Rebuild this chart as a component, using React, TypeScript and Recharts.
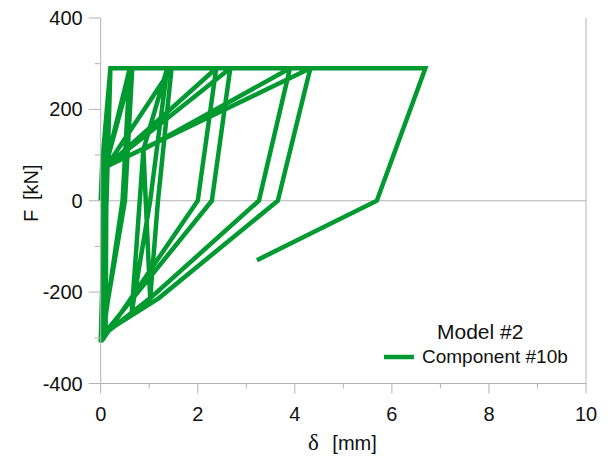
import React from "react";
import {
  LineChart,
  Line,
  XAxis,
  YAxis,
  ReferenceLine,
  Legend,
} from "recharts";

const FONT = "'Liberation Sans', Arial, sans-serif";
const GREEN = "#009a31";
const AXIS_GREY = "#b4b4b4";

// hysteresis path, in the order it was traced
const deltaMm = [
  0, 0.03, 0.2, 0.12, 0.02,
  0.06, 0.2, 0.6, 0.45, 0.05,
  0.1, 0.6, 0.65, 0.5, 0.0,
  0.1, 0.65, 1.37, 1.02, 0.64, 0.88,
  1.37, 1.46, 1.18, 1.02, 0.1,
  0.12, 1.46, 2.38, 2.0, 0.1,
  0.12, 2.38, 2.67, 2.29, 0.08,
  0.12, 2.67, 3.9, 3.26, 1.02, 0.88,
  3.9, 4.32, 3.65, 1.2, 0.05,
  0.12, 4.32, 6.69, 5.69, 3.22,
];
const forceKn = [
  0, 80, 290, 0, -300,
  75, 290, 290, 0, -290,
  75, 290, 290, 0, -310,
  75, 290, 290, 0, -243, 112,
  290, 290, 0, -213, -290,
  75, 290, 290, 0, -295,
  75, 290, 290, 0, -290,
  75, 290, 290, 0, -213, 112,
  290, 290, 0, -213, -290,
  75, 290, 290, 0, -130,
];

const xTicks = [0, 1, 2, 3, 4, 5, 6, 7, 8, 9, 10];
const yTicks = [-400, -300, -200, -100, 0, 100, 200, 300, 400];

const data = deltaMm.map((d, i) => ({ d, f: forceKn[i] }));

const XTick = (props: any) => {
  const { x, y, payload } = props;
  const major = payload.value % 2 === 0;
  return (
    <g>
      <line x1={x} y1={y} x2={x} y2={y + (major ? 10 : 5)} stroke={AXIS_GREY} />
      {major && (
        <text x={x} y={y + 37} textAnchor="middle" fontSize={20} fontFamily={FONT} fill="#111">
          {payload.value}
        </text>
      )}
    </g>
  );
};

const YTick = (props: any) => {
  const { x, y, payload } = props;
  const major = payload.value % 200 === 0;
  return (
    <g>
      <line x1={x - (major ? 12 : 6)} y1={y} x2={x} y2={y} stroke={AXIS_GREY} />
      {major && (
        <text x={x - 18} y={y + 7} textAnchor="end" fontSize={20} fontFamily={FONT} fill="#111">
          {payload.value}
        </text>
      )}
    </g>
  );
};

const renderLegend = () => (
  <div style={{ fontFamily: FONT, color: "#111" }}>
    <div style={{ fontSize: 21, paddingLeft: 53, lineHeight: "24px" }}>Model #2</div>
    <div style={{ display: "flex", alignItems: "center", marginTop: 2 }}>
      <svg width={30} height={6}>
        <line x1={0} y1={3} x2={30} y2={3} stroke={GREEN} strokeWidth={4.5} />
      </svg>
      <span style={{ fontSize: 19, marginLeft: 8 }}>Component #10b</span>
    </div>
  </div>
);

export default function App() {
  return (
    <div style={{ position: "absolute", left: 0, top: 0 }}>
      <LineChart
        width={616}
        height={458}
        data={data}
        margin={{ top: 18, right: 30, left: 0, bottom: 0 }}
      >
        <XAxis
          dataKey="d"
          type="number"
          domain={[0, 10]}
          ticks={xTicks}
          interval={0}
          height={74.5}
          tickSize={0}
          tickMargin={0}
          tickLine={false}
          tick={XTick}
          stroke={AXIS_GREY}
          label={{
            content: (p: any) => {
              const vb = p.viewBox;
              const cx = vb.x + vb.width / 2;
              return (
                <g fill="#111">
                  <text x={cx - 30} y={450} textAnchor="middle" fontSize={23} fontFamily="'Liberation Serif', 'Times New Roman', serif">
                    δ
                  </text>
                  <text x={cx - 11} y={450} textAnchor="start" fontSize={20} fontFamily={FONT}>
                    [mm]
                  </text>
                </g>
              );
            },
          }}
        />
        <YAxis
          type="number"
          domain={[-400, 400]}
          ticks={yTicks}
          interval={0}
          width={100.7}
          tickSize={0}
          tickMargin={0}
          tickLine={false}
          tick={YTick}
          stroke={AXIS_GREY}
          label={{
            content: () => (
              <g fill="#111" transform="rotate(-90 38 196)">
                <text x={38 - 20} y={196} textAnchor="middle" fontSize={20} fontFamily={FONT}>
                  F
                </text>
                <text x={38 - 4} y={196} textAnchor="start" fontSize={20} fontFamily={FONT}>
                  [kN]
                </text>
              </g>
            ),
          }}
        />
        <ReferenceLine y={0} stroke={AXIS_GREY} />
        <ReferenceLine x={10} stroke={AXIS_GREY} />
        <Legend
          layout="vertical"
          align="center"
          verticalAlign="middle"
          wrapperStyle={{ left: 384, top: 320, width: 220 }}
          content={renderLegend}
        />
        <Line
          dataKey="f"
          stroke={GREEN}
          strokeWidth={4.5}
          dot={false}
          isAnimationActive={false}
          legendType="line"
        />
      </LineChart>
    </div>
  );
}
